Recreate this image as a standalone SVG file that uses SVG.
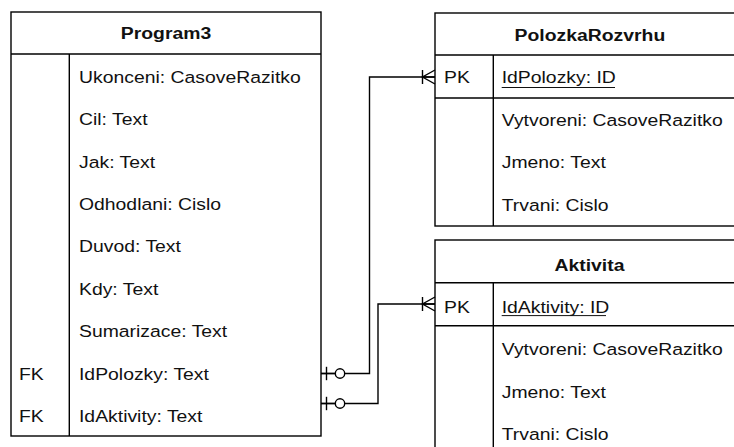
<svg xmlns="http://www.w3.org/2000/svg" xmlns:xlink="http://www.w3.org/1999/xlink" width="734" height="447" viewBox="0 0 734 447">
  <style>
    .box { fill: #ffffff; stroke: #000000; stroke-width: 1.4; }
    .ln { fill: none; stroke: #000000; stroke-width: 1.4; }
    .t { font-family: "Liberation Sans", Arial, Helvetica, sans-serif; font-size: 17px; fill: #111111; }
    .h { font-weight: bold; text-anchor: middle; }
  </style>
  <defs>
    <!-- zero-or-one end, drawn pointing right from the table edge -->
    <g id="zeroOne">
      <line x1="0" y1="0" x2="14" y2="0" class="ln"/>
      <line x1="5.5" y1="-6.7" x2="5.5" y2="6.7" class="ln"/>
      <circle cx="19" cy="0" r="4.7" fill="#ffffff" stroke="#000000" stroke-width="1.4"/>
    </g>
    <!-- one-to-many end, tip at the table edge -->
    <g id="oneMany">
      <line x1="-12.5" y1="-7" x2="-12.5" y2="7" class="ln"/>
      <path d="M0,-7 L-12.5,0 L0,7 M-12.5,0 H0" class="ln"/>
    </g>
  </defs>

  <rect width="734" height="447" fill="#ffffff"/>

  <!-- Program3 -->
  <g id="table-program3">
    <rect class="box" x="11" y="12" width="310" height="424"/>
    <line class="ln" x1="11" y1="54" x2="321" y2="54"/>
    <line class="ln" x1="69.3" y1="54" x2="69.3" y2="436"/>
    <g transform="scale(1.14,1)">
      <text class="t h" x="145.6" y="39">Program3</text>
      <text class="t" x="69.3" y="82.9">Ukonceni: CasoveRazitko</text>
      <text class="t" x="69.3" y="125.2">Cil: Text</text>
      <text class="t" x="69.3" y="167.6">Jak: Text</text>
      <text class="t" x="69.3" y="210">Odhodlani: Cislo</text>
      <text class="t" x="69.3" y="252.5">Duvod: Text</text>
      <text class="t" x="69.3" y="294.9">Kdy: Text</text>
      <text class="t" x="69.3" y="337.3">Sumarizace: Text</text>
      <text class="t" x="16.7" y="379.8">FK</text>
      <text class="t" x="69.3" y="379.8">IdPolozky: Text</text>
      <text class="t" x="16.7" y="422.2">FK</text>
      <text class="t" x="69.3" y="422.2">IdAktivity: Text</text>
    </g>
  </g>

  <!-- PolozkaRozvrhu -->
  <g id="table-polozkarozvrhu">
    <rect class="box" x="435" y="13" width="310" height="213"/>
    <line class="ln" x1="435" y1="55" x2="745" y2="55"/>
    <line class="ln" x1="435" y1="98" x2="745" y2="98"/>
    <line class="ln" x1="493.3" y1="55" x2="493.3" y2="226"/>
    <g transform="scale(1.14,1)">
      <text class="t h" x="517.5" y="40.7">PolozkaRozvrhu</text>
      <text class="t" x="389.5" y="83.3">PK</text>
      <text class="t" x="440.1" y="83.3">IdPolozky: ID</text>
      <text class="t" x="440.1" y="125.7">Vytvoreni: CasoveRazitko</text>
      <text class="t" x="440.1" y="168.4">Jmeno: Text</text>
      <text class="t" x="440.1" y="210.7">Trvani: Cislo</text>
    </g>
    <line x1="501.7" y1="87.5" x2="615" y2="87.5" stroke="#111111" stroke-width="1"/>
  </g>

  <!-- Aktivita -->
  <g id="table-aktivita">
    <rect class="box" x="435" y="240" width="310" height="220"/>
    <line class="ln" x1="435" y1="282.7" x2="745" y2="282.7"/>
    <line class="ln" x1="435" y1="325.7" x2="745" y2="325.7"/>
    <line class="ln" x1="493.3" y1="282.7" x2="493.3" y2="460"/>
    <g transform="scale(1.14,1)">
      <text class="t h" x="517.1" y="270.7">Aktivita</text>
      <text class="t" x="389.5" y="313.3">PK</text>
      <text class="t" x="440.1" y="313.3">IdAktivity: ID</text>
      <text class="t" x="440.1" y="355.3">Vytvoreni: CasoveRazitko</text>
      <text class="t" x="440.1" y="398">Jmeno: Text</text>
      <text class="t" x="440.1" y="440.5">Trvani: Cislo</text>
    </g>
    <line x1="501.7" y1="315.6" x2="606" y2="315.6" stroke="#111111" stroke-width="1"/>
  </g>

  <!-- Relationships -->
  <g id="connectors">
    <path class="ln" d="M321,373.5 H369.5 V77 H435"/>
    <path class="ln" d="M321,403.5 H378 V304 H435"/>
    <use xlink:href="#zeroOne" x="321" y="373.5"/>
    <use xlink:href="#zeroOne" x="321" y="403.5"/>
    <use xlink:href="#oneMany" x="435" y="77"/>
    <use xlink:href="#oneMany" x="435" y="304"/>
  </g>
</svg>
